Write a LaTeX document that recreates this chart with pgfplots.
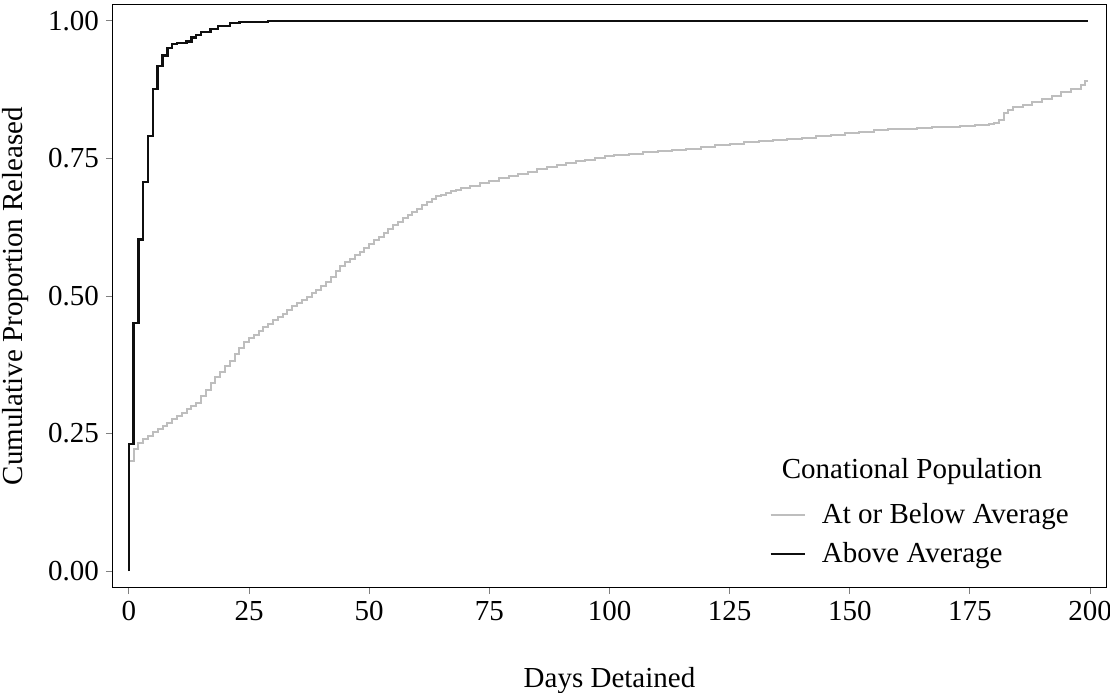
\documentclass[border=0pt]{standalone}
\usepackage{fontspec}
\setmainfont{Liberation Serif}
\usepackage{pgfplots}
\pgfplotsset{compat=1.18}
\definecolor{lightline}{RGB}{190,190,190}
\definecolor{darkline}{RGB}{15,15,15}
\begin{document}
\begin{tikzpicture}[font=\fontsize{14.5}{17}\selectfont]
\begin{axis}[
  name=ax,
  scale only axis,
  width=496.5pt, height=291pt,
  xmin=-3.3, xmax=203.3,
  ymin=-0.029, ymax=1.029,
  xtick={0,25,...,200},
  ytick={0,0.25,0.5,0.75,1},
  xtick pos=bottom, ytick pos=left,
  tick align=outside,
  major tick length=3.5pt,
  every tick/.style={gray, line width=0.5pt},
  axis line style={black, line width=0.5pt},
  /pgf/number format/assume math mode=true,
  yticklabel style={/pgf/number format/.cd, fixed, fixed zerofill, precision=2},
  xlabel={Days Detained},
  ylabel={Cumulative Proportion Released},
  xlabel style={at={(axis description cs:0.5,-0.16)}, anchor=center},
  ylabel style={at={(axis description cs:-0.0977,0.5)}, anchor=center},
  legend style={draw=none, fill=none, at={(axis description cs:0.6546,0.158)}, anchor=north west,
    row sep=4pt, /tikz/every odd column/.append style={column sep=6pt}},
  legend cell align=left,
]
\addplot[const plot, color=lightline, line width=1pt] coordinates {
(0,0.200) (1,0.222) (2,0.232) (3,0.240) (4,0.246) (5,0.252) (6,0.258) (7,0.264)
(8,0.270) (9,0.276) (10,0.282) (11,0.288) (12,0.294) (13,0.300) (14,0.306)
(15,0.318) (16,0.330) (17,0.342) (18,0.352) (19,0.362) (20,0.372) (21,0.382)
(22,0.394) (23,0.406) (24,0.416) (25,0.424) (26,0.430) (27,0.437) (28,0.444)
(29,0.450) (30,0.456) (31,0.461) (32,0.467) (33,0.474) (34,0.481) (35,0.487)
(36,0.493) (37,0.499) (38,0.505) (39,0.511) (40,0.518) (41,0.526) (42,0.535)
(43,0.545) (44,0.554) (45,0.562) (46,0.568) (47,0.574) (48,0.580) (49,0.588)
(50,0.595) (51,0.602) (52,0.608) (53,0.615) (54,0.622) (55,0.629) (56,0.635)
(57,0.641) (58,0.647) (59,0.653) (60,0.659) (61,0.665) (62,0.671) (63,0.676)
(64,0.681) (65,0.684) (66,0.687) (67,0.690) (68,0.693) (69,0.696) (71,0.700)
(73,0.705) (75,0.709) (77,0.714) (79,0.718) (81,0.722) (83,0.726) (85,0.730)
(87,0.734) (89,0.738) (91,0.742) (93,0.745) (95,0.748) (97,0.751) (99,0.754)
(101,0.756) (104,0.759) (107,0.762) (110,0.764) (113,0.766) (116,0.768)
(119,0.771) (122,0.774) (125,0.777) (128,0.780) (131,0.782) (134,0.784)
(137,0.786) (140,0.788) (143,0.790) (146,0.793) (149,0.796) (152,0.799)
(155,0.801) (158,0.803) (161,0.804) (164,0.805) (167,0.807) (170,0.808)
(173,0.809) (176,0.810) (179,0.813) (180,0.815) (181,0.820) (182,0.833)
(183,0.838) (184,0.843) (186,0.848) (188,0.853) (190,0.859) (192,0.864)
(194,0.870) (196,0.876) (198,0.883) (199,0.891) (199.5,0.891)
};
\addlegendentry{At or Below Average}
\addplot[const plot, color=darkline, line width=1.2pt] coordinates {
(0,0) (0,0.231) (1,0.451) (2,0.603) (3,0.707) (4,0.791) (5,0.876) (6,0.918)
(7,0.937) (8,0.951) (9,0.958) (10,0.960) (12,0.963) (13,0.970) (14,0.975)
(15,0.980) (17,0.985) (18.5,0.991) (21,0.996) (23,0.998) (29,1.0) (199.5,1.0)
};
\addlegendentry{Above Average}
\node[anchor=center] at (axis description cs:0.8046,0.1976) {Conational Population};
\end{axis}
\pgfresetboundingbox
\path[use as bounding box] ([shift={(-56.5pt,-52.5pt)}]ax.south west) rectangle ([shift={(2pt,2.5pt)}]ax.north east);
\end{tikzpicture}
\end{document}
